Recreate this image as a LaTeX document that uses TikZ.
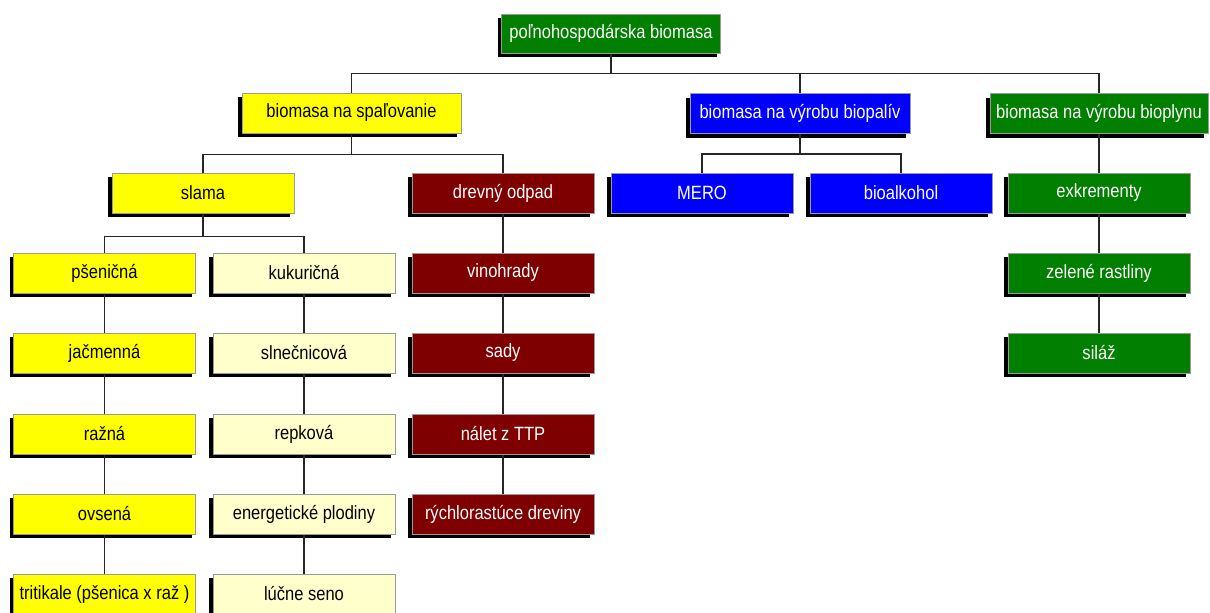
\documentclass[tikz,border=0pt]{standalone}
\usepackage{fontspec}
\setmainfont{Liberation Sans}[FakeStretch=0.86]
\usepackage{xcolor}
\usepackage{tikz}
\usetikzlibrary{shadows}

\definecolor{strawyellow}{HTML}{FFFF00}
\definecolor{paleyellow}{HTML}{FFFFCC}
\definecolor{woodred}{HTML}{7F0000}
\definecolor{fuelblue}{HTML}{0000FF}
\definecolor{gasgreen}{HTML}{007F00}
\definecolor{boxedge}{HTML}{9A9A9A}

\begin{document}
\begin{tikzpicture}[
  x=1pt,y=-1pt,
  font=\fontsize{19.2}{22}\selectfont,
  box/.style={draw=boxedge,line width=1pt,minimum width=182,minimum height=40,
    inner sep=1pt,align=center,
    drop shadow={shadow xshift=-4pt,shadow yshift=-4pt,fill=black,opacity=1}},
  wide/.style={box,minimum width=219},
  yellowbox/.style={fill=strawyellow,text=black},
  palebox/.style={fill=paleyellow,text=black},
  redbox/.style={fill=woodred,text=white},
  bluebox/.style={fill=fuelblue,text=white},
  greenbox/.style={fill=gasgreen,text=white},
  link/.style={draw=black!85,line width=1.3pt}
]
\path[use as bounding box] (0,0) rectangle (1210,613);
\clip (0,0) rectangle (1210,613);
% top levels
\node[wide,greenbox,minimum height=39] (root) at (611,33.5) {poľnohospodárska biomasa};
\node[wide,yellowbox] (burn) at (351.5,113) {biomasa na spaľovanie};
\node[wide,bluebox,minimum width=220] (fuel) at (800,113.5) {biomasa na výrobu biopalív};
\node[wide,greenbox,minimum width=218] (gas) at (1099,113.5) {biomasa na výrobu bioplynu};
\node[box,yellowbox] (straw) at (203,193) {slama};
\node[box,redbox] (wood) at (503,193) {drevný odpad};
\node[box,bluebox] (mero) at (702,193) {MERO};
\node[box,bluebox] (alcohol) at (901,193) {bioalkohol};
\node[box,greenbox] (dung) at (1099,193) {exkrementy};
% straw columns
\node[box,yellowbox] (wheat) at (104.5,273) {pšeničná};
\node[box,yellowbox] (barley) at (104.5,353) {jačmenná};
\node[box,yellowbox] (rye) at (104.5,434) {ražná};
\node[box,yellowbox] (oat) at (104.5,514) {ovsená};
\node[box,yellowbox] (triticale) at (104.5,594) {tritikale (pšenica x raž )};
\node[box,palebox] (maize) at (304,273) {kukuričná};
\node[box,palebox] (sunflower) at (304,353) {slnečnicová};
\node[box,palebox] (rape) at (304,434) {repková};
\node[box,palebox] (energy) at (304,514) {energetické plodiny};
\node[box,palebox] (hay) at (304,594) {lúčne seno};
% wood column
\node[box,redbox] (vineyard) at (503,273) {vinohrady};
\node[box,redbox] (orchard) at (503,353) {sady};
\node[box,redbox] (scrub) at (503,434) {nálet z TTP};
\node[box,redbox] (coppice) at (503,514) {rýchlorastúce dreviny};
% biogas column
\node[box,greenbox] (green) at (1099,273) {zelené rastliny};
\node[box,greenbox] (silage) at (1099,353) {siláž};
% tree links
\draw[link] (root.south) -- ++(0,20) -| (burn.north);
\draw[link] (root.south) -- ++(0,20) -| (fuel.north);
\draw[link] (root.south) -- ++(0,20) -| (gas.north);
\draw[link] (burn.south) -- ++(0,21) -| (straw.north);
\draw[link] (burn.south) -- ++(0,21) -| (wood.north);
\draw[link] (fuel.south) -- ++(0,20) -| (mero.north);
\draw[link] (fuel.south) -- ++(0,20) -| (alcohol.north);
\draw[link] (gas.south) -- (dung.north);
\draw[link] (straw.south) -- ++(0,23) -| (wheat.north);
\draw[link] (straw.south) -- ++(0,23) -| (maize.north);
% chains
\draw[link] (wheat.south) -- (barley.north);
\draw[link] (barley.south) -- (rye.north);
\draw[link] (rye.south) -- (oat.north);
\draw[link] (oat.south) -- (triticale.north);
\draw[link] (maize.south) -- (sunflower.north);
\draw[link] (sunflower.south) -- (rape.north);
\draw[link] (rape.south) -- (energy.north);
\draw[link] (energy.south) -- (hay.north);
\draw[link] (wood.south) -- (vineyard.north);
\draw[link] (vineyard.south) -- (orchard.north);
\draw[link] (orchard.south) -- (scrub.north);
\draw[link] (scrub.south) -- (coppice.north);
\draw[link] (dung.south) -- (green.north);
\draw[link] (green.south) -- (silage.north);
\end{tikzpicture}
\end{document}
